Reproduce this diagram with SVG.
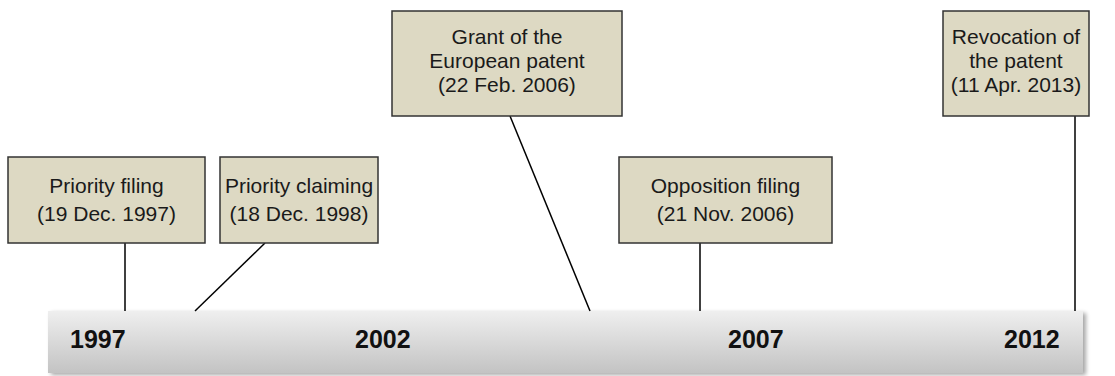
<svg xmlns="http://www.w3.org/2000/svg" width="1115" height="376" viewBox="0 0 1115 376">
<defs>
<linearGradient id="barGrad" x1="0" y1="0" x2="0" y2="1">
<stop offset="0" stop-color="#efefef"/>
<stop offset="1" stop-color="#c3c3c3"/>
</linearGradient>
<filter id="shadow" x="-5%" y="-20%" width="110%" height="150%">
<feGaussianBlur in="SourceAlpha" stdDeviation="2"/>
<feOffset dx="3" dy="2" result="b"/>
<feComponentTransfer><feFuncA type="linear" slope="0.35"/></feComponentTransfer>
<feMerge><feMergeNode/><feMergeNode in="SourceGraphic"/></feMerge>
</filter>
</defs>
<style>
.box{fill:#ddd9c3;stroke:#333333;stroke-width:1.5}
.lbl{font-family:"Liberation Sans",Arial,sans-serif;font-size:21px;fill:#1a1a1a;text-anchor:middle}
.yr{font-family:"Liberation Sans",Arial,sans-serif;font-size:25px;font-weight:bold;fill:#111111}
.con{stroke:#000000;stroke-width:1.5;fill:none}
</style>
<g id="timeline">
<rect x="48" y="311" width="1035" height="62" fill="url(#barGrad)" filter="url(#shadow)"/>
<text class="yr" x="70" y="348">1997</text>
<text class="yr" x="355" y="348">2002</text>
<text class="yr" x="728" y="348">2007</text>
<text class="yr" x="1004" y="348">2012</text>
</g>
<g id="connectors">
<line class="con" x1="125" y1="243" x2="125" y2="311"/>
<line class="con" x1="265" y1="243" x2="195" y2="311"/>
<line class="con" x1="510" y1="116" x2="590" y2="311"/>
<line class="con" x1="700" y1="243" x2="700" y2="311"/>
<line class="con" x1="1075" y1="116" x2="1075" y2="311"/>
</g>
<g id="priority-filing">
<rect class="box" x="8" y="157" width="197" height="86"/>
<text class="lbl" x="106.5" y="193">Priority filing</text>
<text class="lbl" x="106.5" y="221">(19 Dec. 1997)</text>
</g>
<g id="priority-claiming">
<rect class="box" x="220" y="157" width="158" height="86"/>
<text class="lbl" x="299" y="193">Priority claiming</text>
<text class="lbl" x="299" y="221">(18 Dec. 1998)</text>
</g>
<g id="grant">
<rect class="box" x="392" y="11" width="230" height="105"/>
<text class="lbl" x="507" y="44">Grant of the</text>
<text class="lbl" x="507" y="68">European patent</text>
<text class="lbl" x="507" y="92">(22 Feb. 2006)</text>
</g>
<g id="opposition">
<rect class="box" x="619" y="157" width="213" height="86"/>
<text class="lbl" x="725.5" y="193">Opposition filing</text>
<text class="lbl" x="725.5" y="221">(21 Nov. 2006)</text>
</g>
<g id="revocation">
<rect class="box" x="943" y="11" width="146" height="105"/>
<text class="lbl" x="1016" y="44">Revocation of</text>
<text class="lbl" x="1016" y="68">the patent</text>
<text class="lbl" x="1016" y="92">(11 Apr. 2013)</text>
</g>
</svg>
